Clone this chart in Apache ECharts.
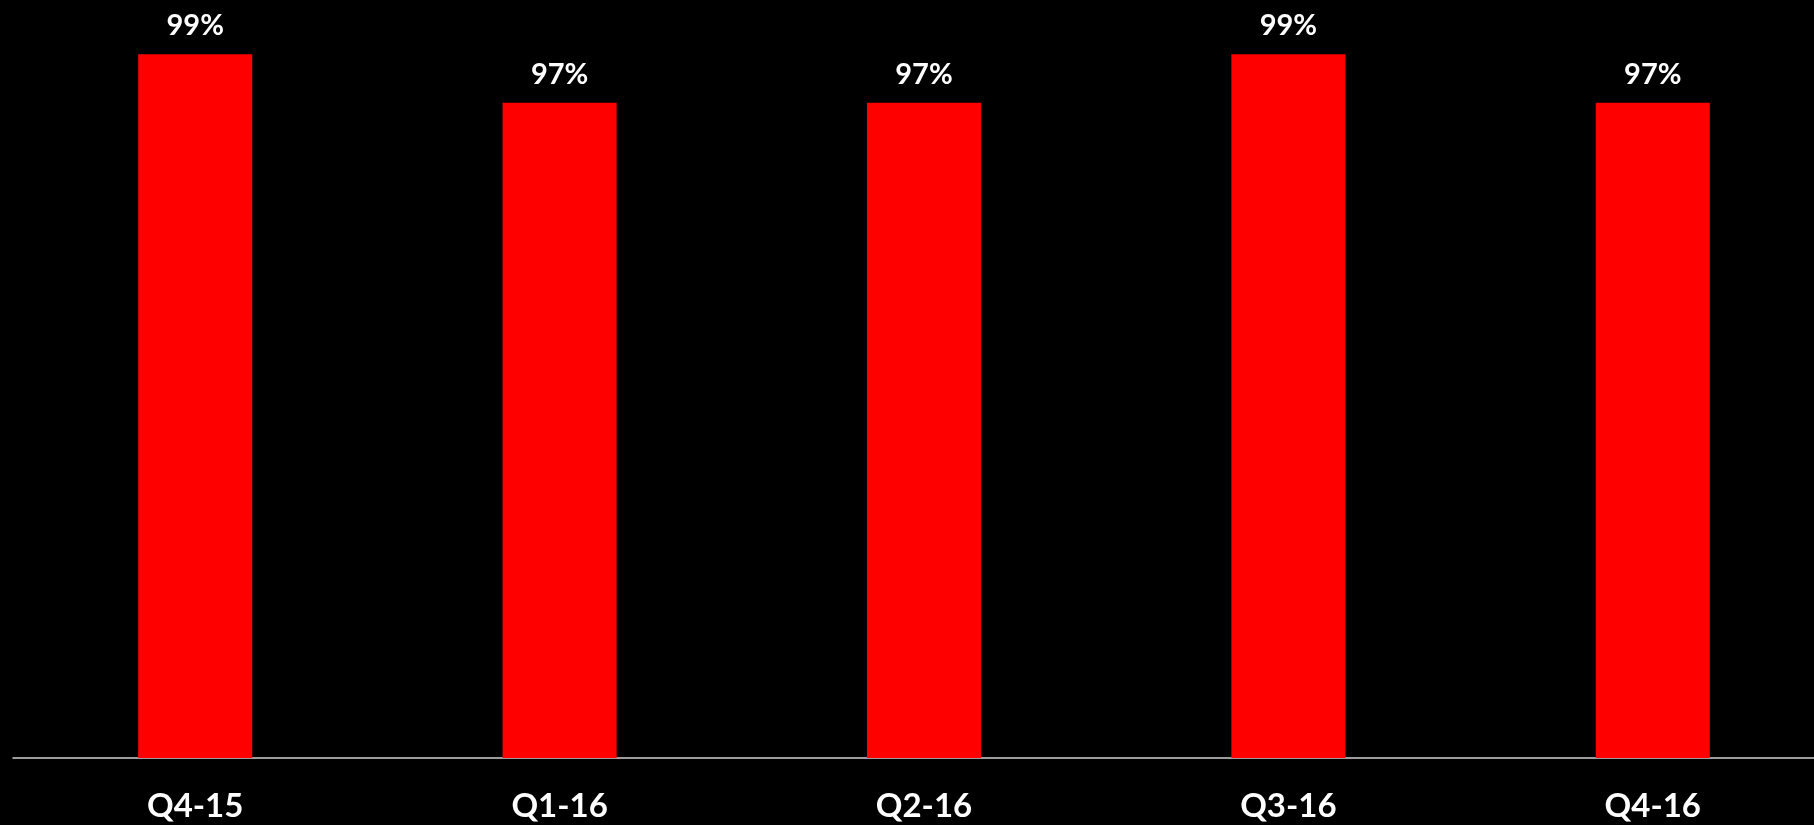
<!DOCTYPE html>
<html>
<head>
<meta charset="utf-8">
<script src="https://cdn.jsdelivr.net/npm/echarts@6/dist/echarts.min.js"></script>
<style>
  html, body { margin: 0; padding: 0; background: #000; }
  #chart { width: 1814px; height: 825px; }
</style>
</head>
<body>
<div id="chart"></div>
<script>
// Quarterly share, in percent
const quarters = ['Q4-15', 'Q1-16', 'Q2-16', 'Q3-16', 'Q4-16'];
const shares = [99, 97, 97, 99, 97];

const chart = echarts.init(document.getElementById('chart'));
chart.setOption({
  backgroundColor: '#000000',
  animation: false,
  // plot area runs past the right edge so the last category keeps full width
  grid: { left: 13, width: 1822, top: 30, bottom: 67, outerBoundsMode: 'none' },
  xAxis: {
    type: 'category',
    data: quarters,
    axisLine: { show: true, lineStyle: { color: '#d0d0d0', width: 1.5 } },
    axisTick: { show: false },
    axisLabel: {
      color: '#ffffff',
      fontFamily: 'Lato',
      fontWeight: 'bold',
      fontSize: 33,
      margin: 32
    }
  },
  yAxis: {
    type: 'value',
    min: 70,
    max: 100,
    show: false,
    splitLine: { show: false }
  },
  series: [{
    type: 'bar',
    data: shares,
    barWidth: '31.3%',
    itemStyle: { color: '#ff0000' },
    label: {
      show: true,
      position: 'top',
      distance: 14,
      color: '#ffffff',
      fontFamily: 'Lato',
      fontWeight: 'bold',
      fontSize: 29,
      formatter: p => p.value + '%'
    }
  }]
});
</script>
</body>
</html>
